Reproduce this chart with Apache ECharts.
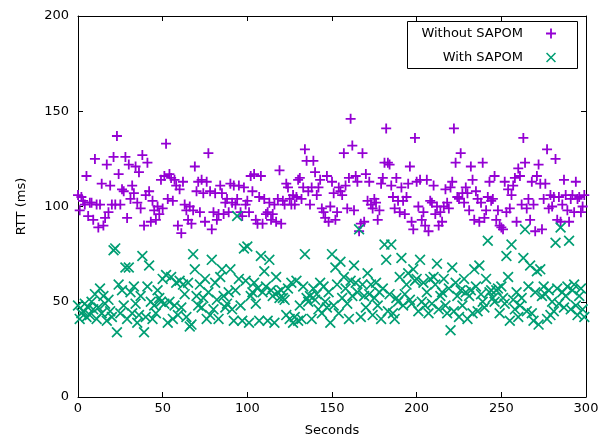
<!DOCTYPE html>
<html>
<head>
<meta charset="utf-8">
<script src="https://cdn.jsdelivr.net/npm/echarts@6/dist/echarts.min.js"></script>
<style>
  html, body { margin: 0; padding: 0; background: #fff; }
  #chart { width: 615px; height: 442px; }
</style>
</head>
<body>
<div id="chart"></div>
<script>
// RTT per second (index = seconds)
const withoutSapom = [
  106, 98, 105, 103, 101, 116, 95, 102, 102, 93,
  125, 101, 89, 101, 112, 90, 94, 122, 97, 111,
  101, 126, 101, 137, 117, 101, 109, 108, 126, 94,
  122, 104, 111, 107, 121, 102, 118, 99, 127, 90,
  106, 123, 108, 92, 103, 98, 93, 100, 96, 114,
  99, 116, 133, 104, 117, 115, 103, 114, 111, 90,
  109, 86, 113, 101, 98, 93, 100, 91, 98, 121,
  108, 113, 97, 114, 107, 92, 113, 128, 108, 88,
  97, 107, 93, 96, 111, 107, 96, 102, 104, 97,
  112, 102, 111, 101, 104, 111, 97, 95, 110, 101,
  103, 97, 116, 108, 117, 93, 91, 105, 116, 91,
  104, 96, 97, 102, 93, 96, 101, 92, 104, 119,
  91, 103, 101, 112, 110, 104, 101, 106, 101, 105,
  114, 115, 104, 110, 130, 124, 108, 101, 110, 124,
  118, 106, 110, 114, 99, 97, 94, 116, 92, 100,
  113, 107, 93, 97, 110, 108, 106, 128, 111, 99,
  115, 146, 132, 98, 116, 113, 87, 91, 128, 92,
  117, 103, 113, 101, 99, 104, 102, 93, 98, 112,
  115, 123, 141, 123, 122, 111, 105, 99, 115, 103,
  97, 110, 103, 96, 105, 112, 121, 92, 88, 136,
  113, 100, 114, 93, 97, 90, 114, 87, 103, 102,
  111, 96, 100, 90, 97, 92, 100, 109, 102, 99,
  110, 113, 141, 123, 105, 104, 128, 107, 102, 110,
  107, 98, 121, 114, 93, 108, 104, 92, 102, 123,
  94, 98, 105, 113, 103, 104, 116, 93, 98, 90,
  89, 88, 113, 97, 109, 99, 106, 111, 115, 92,
  120, 116, 101, 136, 123, 99, 104, 93, 113, 101,
  87, 116, 122, 112, 88, 104, 112, 130, 99, 106,
  100, 105, 125, 93, 105, 92, 101, 114, 106, 98,
  92, 104, 106, 97, 113, 104, 105, 97, 100, 106
]

const withSapom = [
  48, 41, 44, 45, 49, 42, 47, 43, 50, 46,
  54, 41, 47, 57, 44, 53, 49, 40, 51, 45,
  42, 77, 78, 34, 59, 44, 56, 48, 68, 41,
  68, 55, 44, 58, 49, 39, 43, 53, 74, 34,
  42, 58, 69, 50, 41, 48, 44, 56, 52, 50,
  62, 49, 64, 39, 50, 63, 41, 48, 60, 43,
  61, 47, 59, 54, 42, 60, 37, 38, 75, 67,
  53, 48, 59, 47, 52, 62, 41, 55, 43, 72,
  46, 60, 51, 41, 63, 67, 53, 47, 49, 55,
  67, 46, 40, 56, 95, 62, 48, 40, 78, 61,
  79, 39, 53, 55, 60, 49, 57, 40, 74, 55,
  66, 58, 40, 72, 56, 53, 39, 63, 55, 52,
  56, 52, 51, 43, 57, 41, 60, 39, 42, 61,
  40, 48, 41, 58, 75, 52, 50, 53, 41, 57,
  51, 54, 46, 60, 44, 58, 50, 47, 55, 39,
  75, 48, 68, 59, 44, 71, 52, 63, 57, 49,
  41, 61, 53, 69, 60, 55, 88, 42, 59, 53,
  47, 65, 54, 59, 43, 52, 60, 48, 55, 41,
  57, 80, 72, 45, 54, 80, 44, 41, 52, 50,
  63, 73, 48, 54, 59, 65, 51, 49, 67, 61,
  62, 45, 72, 50, 60, 48, 55, 44, 62, 49,
  63, 59, 70, 46, 53, 55, 62, 48, 44, 57,
  35, 68, 45, 60, 53, 42, 56, 48, 62, 55,
  41, 53, 56, 44, 67, 58, 45, 69, 54, 50,
  47, 62, 82, 55, 56, 52, 50, 56, 57, 44,
  58, 52, 49, 74, 63, 40, 80, 51, 46, 55,
  42, 48, 52, 73, 88, 45, 58, 69, 44, 40,
  55, 66, 38, 67, 53, 58, 54, 41, 56, 43,
  50, 45, 81, 57, 49, 89, 55, 47, 53, 58,
  82, 46, 56, 59, 48, 43, 53, 57, 46, 42
]

const seriesNames = ['Without SAPOM', 'With SAPOM']
const xTicks = { min: 0, max: 300, step: 50 }
const yTicks = { min: 0, max: 200, step: 50 }

// gnuplot-like point types: + and x
const plusPath = 'path://M4.1,0H5.9V4.1H10V5.9H5.9V10H4.1V5.9H0V4.1H4.1Z'
const crossPath = 'path://M0,1.1L1.1,0L10,8.9L8.9,10ZM8.9,0L10,1.1L1.1,10L0,8.9Z'

const font = 'DejaVu Sans'
const chart = echarts.init(document.getElementById('chart'))

function frameAxis (pos, extent, showLabel) {
    return {
        type: 'value',
        position: pos,
        min: extent.min,
        max: extent.max,
        interval: extent.step,
        axisLine: { show: true, onZero: false, lineStyle: { color: '#000', width: 1 } },
        axisTick: { show: true, inside: true, length: 5, lineStyle: { color: '#000', width: 1 } },
        axisLabel: { show: showLabel, color: '#000', fontSize: 13, fontFamily: font },
        splitLine: { show: false }
    }
}

let xBottom = frameAxis('bottom', xTicks, true)
xBottom.name = 'Seconds'
xBottom.nameLocation = 'middle'
xBottom.nameGap = 27
xBottom.nameTextStyle = { color: '#000', fontSize: 13, fontFamily: font }
xBottom.axisLabel.margin = 5

let yLeft = frameAxis('left', yTicks, true)
yLeft.name = 'RTT (ms)'
yLeft.nameLocation = 'middle'
yLeft.nameGap = 50
yLeft.nameTextStyle = { color: '#000', fontSize: 13, fontFamily: font }
yLeft.axisLabel.margin = 9

function legendFor (name, icon, top) {
    return {
        data: [{ name: name, icon: icon }],
        orient: 'vertical',
        align: 'right',
        right: 59,
        top: top,
        padding: 0,
        itemWidth: 46,
        itemHeight: 10,
        selectedMode: false,
        textStyle: { color: '#000', fontSize: 13, fontFamily: font }
    }
}

const option = {
    animation: false,
    backgroundColor: '#fff',
    grid: { left: 78, right: 29, top: 16, bottom: 38 },
    xAxis: [xBottom, frameAxis('top', xTicks, false)],
    yAxis: [yLeft, frameAxis('right', yTicks, false)],
    legend: [
        legendFor(seriesNames[0], plusPath, 27),
        legendFor(seriesNames[1], crossPath, 51)
    ],
    graphic: [{
        type: 'rect',
        shape: { x: 407.5, y: 21.5, width: 170, height: 47 },
        style: { fill: 'none', stroke: '#000', lineWidth: 1 },
        silent: true
    }],
    series: [
        {
            name: seriesNames[0],
            type: 'scatter',
            symbol: plusPath,
            symbolSize: 10,
            itemStyle: { color: '#9400d3', opacity: 1 },
            data: withoutSapom.map((v, i) => [i, v])
        },
        {
            name: seriesNames[1],
            type: 'scatter',
            symbol: crossPath,
            symbolSize: 11,
            itemStyle: { color: '#009e73', opacity: 1 },
            data: withSapom.map((v, i) => [i, v])
        }
    ]
}

chart.setOption(option)
</script>
</body>
</html>
